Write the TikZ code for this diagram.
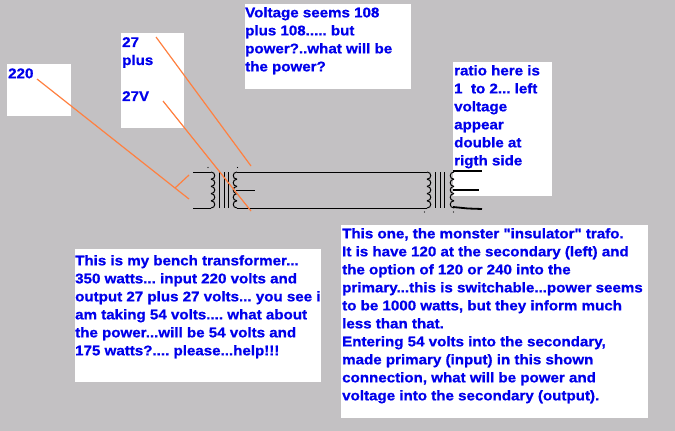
\documentclass[tikz,border=0pt]{standalone}
\usepackage{fontspec}
\setmainfont{Liberation Sans}
\newfontfamily\notefont{Liberation Sans}[BoldFeatures={FakeStretch=1.08,FakeBold=0.8}]
\definecolor{panelgrey}{RGB}{195,193,195}
\definecolor{noteblue}{RGB}{0,0,235}
\definecolor{wireorange}{RGB}{255,128,64}
\tikzset{
	whitebox/.style={fill=white,draw=none,inner sep=0pt,anchor=north west},
	notetext/.style={
		anchor=north west,
		inner sep=0pt,
		align=left,
		text=noteblue,
		font=\notefont\fontsize{14}{18}\selectfont\bfseries\frenchspacing,
		execute at begin node=\rule{0pt}{12pt},
	},
	pointer/.style={draw=wireorange,line width=1.2pt},
	wire/.style={draw=black,line width=1pt},
	heavywire/.style={draw=black,line width=1.8pt},
	coil/.pic={
		\foreach \i [evaluate={\j=\i*7.2;\k=\j+7.2;}] in {0,...,4}{
			\draw[wire] (0,\j) .. controls (5,\j) and (5,\k) .. (0,\k);
		}
	},
}
\begin{document}
\begin{tikzpicture}[x=1pt,y=-1pt]
	\fill[panelgrey] (0,0) rectangle (675,431);
	\useasboundingbox (0,0) rectangle (675,431);

	\node[whitebox,minimum width=64pt,minimum height=52pt] (box220) at (7,64) {};
	\node[whitebox,minimum width=63pt,minimum height=95pt] (box27) at (121,33) {};
	\node[whitebox,minimum width=166pt,minimum height=85pt] (boxvolt) at (245,4) {};
	\node[whitebox,minimum width=99pt,minimum height=134pt] (boxratio) at (453,62) {};
	\node[whitebox,minimum width=246pt,minimum height=133pt] (boxbench) at (75,249) {};
	\node[whitebox,minimum width=307pt,minimum height=193pt] (boxtrafo) at (341,225) {};

	\node[notetext] (txt220) at (8,66) {220};
	\node[notetext] (txt27) at (122,37) {27\\plus\\[18pt]27V};
	\node[notetext] (txtvolt) at (245,7) {Voltage seems 108\\plus 108..... but\\power?..what will be\\the power?};
	\node[notetext] (txtratio) at (454,65) {ratio here is\\1 \ to 2... left\\voltage\\appear\\double at\\rigth side};
	\node[notetext] (txtbench) at (75,255) {This is my bench transformer...\\350 watts... input 220 volts and\\output 27 plus 27 volts... you see i\\am taking 54 volts.... what about\\the power...will be 54 volts and\\175 watts?.... please...help!!!};
	\node[notetext] (txttrafo) at (342,228) {This one, the monster "insulator" trafo.\\It is have 120 at the secondary (left) and\\the option of 120 or 240 into the\\primary...this is switchable...power seems\\to be 1000 watts, but they inform much\\less than that.\\Entering 54 volts into the secondary,\\made primary (input) in this shown\\connection, what will be power and\\voltage into the secondary (output).};

	% bench transformer
	\coordinate (pritop) at (193,172);
	\coordinate (pribot) at (193,208);
	\coordinate (coilAtop) at (211,172);
	\coordinate (coilAbot) at (211,208);
	\coordinate (coilBtop) at (237,172);
	\coordinate (coilBmid) at (236,190);
	\coordinate (coilBbot) at (237,208);
	\coordinate (tapend) at (255,190);
	\draw[wire] (pritop) -- (coilAtop);
	\draw[wire] (pribot) -- (coilAbot);
	\pic at (coilAtop) {coil};
	\pic[xscale=-1] at (coilBtop) {coil};
	\foreach \x in {219.5,224,228.5}{
		\draw[wire] (\x,172) -- (\x,208);
	}
	\draw[wire] (coilBmid) -- (tapend);
	\fill (208,167.5) circle (0.7pt);
	\fill (237.5,167.5) circle (0.7pt);

	% insulator trafo
	\coordinate (coilCtop) at (427,172);
	\coordinate (coilCbot) at (427,208);
	\coordinate (coilDtop) at (454,172);
	\draw[wire] (coilBtop) -- (coilCtop);
	\draw[wire] (coilBbot) -- (coilCbot);
	\pic at (coilCtop) {coil};
	\pic[xscale=-1] at (coilDtop) {coil};
	\foreach \x in {435,440,444}{
		\draw[wire] (\x,172) -- (\x,208);
	}
	\fill (424.5,212) circle (0.7pt);
	\fill (453.5,212) circle (0.7pt);
	\coordinate (outtop) at (482,171);
	\coordinate (outmid) at (479,190);
	\coordinate (outbot) at (482,209);
	\draw[heavywire] (453,171) -- (outtop);
	\draw[heavywire] (453,190) -- (outmid);
	\draw[heavywire] (453,207) -- (468,208.5) -- (outbot);

	% pointers
	\coordinate (from220) at (37,79);
	\coordinate (forkA) at (175,188);
	\coordinate (forkB) at (189,175);
	\coordinate (end220) at (189,199);
	\draw[pointer] (from220) -- (forkA) -- (end220);
	\draw[pointer] (forkA) -- (forkB);
	\coordinate (from27) at (156,37);
	\coordinate (end27) at (251,166);
	\coordinate (from27V) at (163,101);
	\coordinate (end27V) at (251,211);
	\draw[pointer] (from27) -- (end27);
	\draw[pointer] (from27V) -- (end27V);
\end{tikzpicture}
\end{document}
